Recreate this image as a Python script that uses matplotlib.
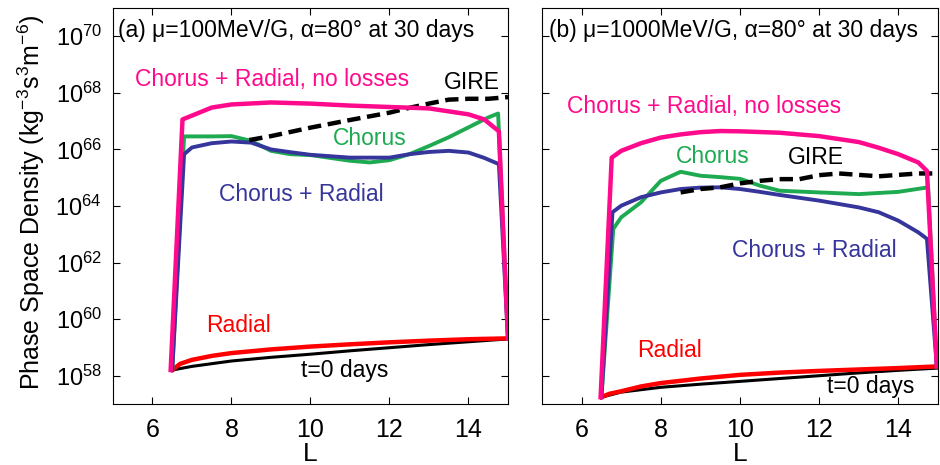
import matplotlib
matplotlib.use("Agg")
import matplotlib.pyplot as plt
import numpy as np

plt.rcParams['font.family'] = ['Liberation Sans', 'DejaVu Sans']
plt.rcParams['mathtext.fontset'] = 'custom'
plt.rcParams['mathtext.rm'] = 'Liberation Sans'
plt.rcParams['mathtext.it'] = 'Liberation Sans:italic'

# ---- panel (a): mu=100 MeV/G, values are log10(PSD) ----
a_t0_L = [6.5, 7.0, 8.0, 9.0, 10.0, 11.0, 12.0, 13.0, 14.0, 15.0]
a_t0 = [58.2, 58.33, 58.52, 58.65, 58.76, 58.88, 58.99, 59.1, 59.2, 59.3]

a_rad_L = [6.5, 6.7, 7.0, 7.5, 8.0, 9.0, 10.0, 11.0, 12.0, 13.0, 14.0, 15.0]
a_rad = [58.2, 58.42, 58.56, 58.7, 58.8, 58.93, 59.03, 59.11, 59.18, 59.24, 59.29, 59.32]

a_cho_L = [6.5, 6.8, 7.5, 8.0, 8.5, 9.0, 9.5, 10.0, 11.0, 11.5, 12.0, 12.5,
           13.0, 13.5, 14.0, 14.5, 14.75, 15.0]
a_cho = [58.2, 66.46, 66.46, 66.47, 66.3, 65.95, 65.83, 65.8, 65.6, 65.54, 65.62,
         65.83, 66.12, 66.43, 66.78, 67.13, 67.27, 59.32]

a_chr_L = [6.5, 6.8, 7.0, 7.5, 8.0, 8.5, 9.0, 9.5, 10.0, 11.0, 12.0, 12.5,
           13.0, 13.5, 14.0, 14.4, 14.77, 15.0]
a_chr = [58.2, 65.83, 66.07, 66.22, 66.28, 66.24, 66.0, 65.9, 65.81, 65.71, 65.71,
         65.83, 65.91, 65.95, 65.89, 65.7, 65.48, 59.32]

a_gire_L = [8.45, 9.0, 10.0, 11.0, 12.0, 12.5, 13.0, 13.5, 14.0, 14.5, 15.0]
a_gire = [66.33, 66.47, 66.77, 67.04, 67.3, 67.47, 67.62, 67.76, 67.79, 67.79, 67.85]

a_nol_L = [6.46, 6.76, 7.5, 8.0, 9.0, 10.0, 11.0, 12.0, 13.0, 14.0, 14.4, 14.77, 15.0]
a_nol = [58.2, 67.06, 67.48, 67.59, 67.66, 67.62, 67.55, 67.5, 67.45, 67.24, 67.06,
         66.64, 59.32]

# ---- panel (b): mu=1000 MeV/G ----
b_t0_L = [6.5, 7.0, 8.0, 9.0, 10.0, 11.0, 12.0, 13.0, 14.0, 15.0]
b_t0 = [57.24, 57.42, 57.59, 57.7, 57.8, 57.9, 58.0, 58.1, 58.19, 58.27]

b_rad_L = [6.5, 6.7, 7.0, 7.5, 8.0, 9.0, 10.0, 11.0, 12.0, 13.0, 14.0, 15.0]
b_rad = [57.24, 57.36, 57.45, 57.62, 57.74, 57.9, 58.03, 58.11, 58.17, 58.22, 58.27, 58.33]

b_cho_L = [6.5, 6.8, 7.0, 7.5, 8.0, 8.5, 9.0, 9.5, 10.0, 10.5, 11.0, 12.0,
           13.0, 14.0, 14.75, 14.97]
b_cho = [57.24, 63.19, 63.6, 64.13, 64.89, 65.21, 65.07, 65.02, 64.96, 64.72,
         64.54, 64.48, 64.42, 64.5, 64.66, 58.33]

b_chr_L = [6.5, 6.78, 7.0, 7.5, 8.0, 8.5, 9.0, 9.5, 10.0, 10.5, 11.0, 12.0,
           13.0, 13.5, 14.0, 14.5, 14.72, 14.97]
b_chr = [57.24, 63.78, 64.01, 64.31, 64.48, 64.6, 64.65, 64.66, 64.6, 64.5,
         64.39, 64.19, 63.95, 63.78, 63.48, 63.07, 62.84, 58.33]

b_gire_L = [8.5, 9.0, 9.5, 10.0, 10.5, 11.0, 11.5, 12.0, 12.5, 13.0, 13.5, 14.0, 14.5, 15.0]
b_gire = [64.48, 64.6, 64.66, 64.8, 64.89, 64.95, 64.95, 65.09, 65.15, 65.1,
          65.05, 65.1, 65.15, 65.15]

b_nol_L = [6.48, 6.76, 7.0, 7.5, 8.0, 8.5, 9.0, 9.5, 10.0, 11.0, 12.0, 13.0,
           13.5, 14.0, 14.5, 14.72, 14.97]
b_nol = [57.24, 65.71, 65.95, 66.22, 66.42, 66.53, 66.61, 66.65, 66.64, 66.59,
         66.47, 66.26, 66.06, 65.83, 65.54, 65.24, 58.33]

titles = ['(a) μ=100MeV/G, α=80° at 30 days',
          '(b) μ=1000MeV/G, α=80° at 30 days']

c_mag = '#ff0a8c'
c_red = '#ff0000'
c_grn = '#1daa50'
c_blu = '#35359c'

fig = plt.figure(figsize=(9.4, 4.65), dpi=100)
ax1 = fig.add_axes([0.1202, 0.1312, 0.4202, 0.8516])
ax2 = fig.add_axes([0.5766, 0.1312, 0.4213, 0.8516])

panels = [
    (ax1, a_t0_L, a_t0, a_rad_L, a_rad, a_cho_L, a_cho, a_chr_L, a_chr,
     a_gire_L, a_gire, a_nol_L, a_nol),
    (ax2, b_t0_L, b_t0, b_rad_L, b_rad, b_cho_L, b_cho, b_chr_L, b_chr,
     b_gire_L, b_gire, b_nol_L, b_nol),
]

for i, p in enumerate(panels):
    ax = p[0]
    ax.plot(p[1], 10**np.array(p[2]), color='black', lw=2.2)
    ax.plot(p[3], 10**np.array(p[4]), color=c_red, lw=3.2)
    ax.plot(p[5], 10**np.array(p[6]), color=c_grn, lw=2.8)
    ax.plot(p[7], 10**np.array(p[8]), color=c_blu, lw=2.8)
    ax.plot(p[9], 10**np.array(p[10]), color='black', lw=3.2, ls=(0, (3.0, 1.5)))
    ax.plot(p[11], 10**np.array(p[12]), color=c_mag, lw=3.2)

    ax.set_yscale('log')
    ax.set_xlim(5, 15)
    ax.set_ylim(1e57, 1e71)
    ax.set_xticks([6, 8, 10, 12, 14])
    ax.set_yticks([10.0**k for k in range(58, 71, 2)])
    ax.yaxis.set_minor_locator(matplotlib.ticker.NullLocator())
    ax.tick_params(direction='in', top=True, right=True, length=5, width=0.8)
    ax.tick_params(axis='x', labelsize=18, pad=10)
    ax.tick_params(axis='y', labelsize=17, pad=8)
    ax.set_xlabel('L', fontsize=19, labelpad=0)
    ax.text(0.012 if i == 0 else 0.017, 0.944, titles[i], transform=ax.transAxes,
            fontsize=16.5, va='center', ha='left')

ax2.set_yticklabels([])
ax1.set_ylabel(r'Phase Space Density (kg$^{-3}$s$^{3}$m$^{-6}$)', fontsize=18)
ax1.yaxis.set_label_coords(-0.167, 0.51)

# curve labels, panel (a)
ax1.text(5.56, 10**68.47, 'Chorus + Radial, no losses', color=c_mag, fontsize=16.5, va='center')
ax1.text(13.38, 10**68.36, 'GIRE', color='black', fontsize=16.5, va='center')
ax1.text(10.56, 10**66.39, 'Chorus', color=c_grn, fontsize=16.5, va='center')
ax1.text(7.68, 10**64.42, 'Chorus + Radial', color=c_blu, fontsize=16.5, va='center')
ax1.text(7.37, 10**59.78, 'Radial', color=c_red, fontsize=16.5, va='center')
ax1.text(9.77, 10**58.2, 't=0 days', color='black', fontsize=16.5, va='center')

# curve labels, panel (b)
ax2.text(5.63, 10**67.52, 'Chorus + Radial, no losses', color=c_mag, fontsize=16.5, va='center')
ax2.text(8.38, 10**65.76, 'Chorus', color=c_grn, fontsize=16.5, va='center')
ax2.text(11.21, 10**65.72, 'GIRE', color='black', fontsize=16.5, va='center')
ax2.text(9.8, 10**62.42, 'Chorus + Radial', color=c_blu, fontsize=16.5, va='center')
ax2.text(7.4, 10**58.9, 'Radial', color=c_red, fontsize=16.5, va='center')
ax2.text(12.2, 10**57.63, 't=0 days', color='black', fontsize=16.5, va='center')

fig.savefig('out.png', dpi=100)
